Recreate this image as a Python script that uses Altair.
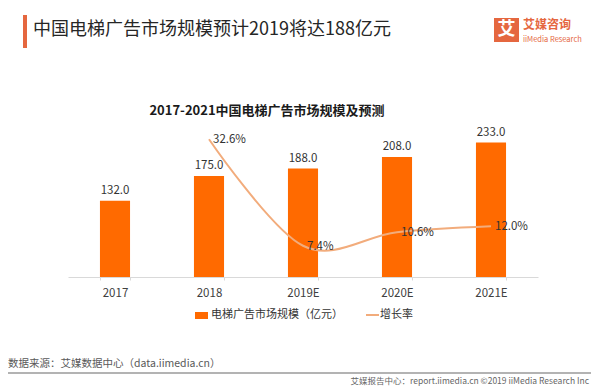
import altair as alt
import pandas as pd

# ---- data ----
years = ["2017", "2018", "2019E", "2020E", "2021E"]
market = [132.0, 175.0, 188.0, 208.0, 233.0]
growth = [None, 32.6, 7.4, 10.6, 12.0]

FONT = "Noto Sans CJK SC"
BAR = "#FF6A00"
LINE = "#F2AC7C"
ACCENT = "#E5673F"

df = pd.DataFrame({"year": years, "market": market, "growth": growth})
one = pd.DataFrame({"k": [0]})

x = alt.X(
    "year:N", sort=years,
    scale=alt.Scale(paddingInner=0.68, paddingOuter=0.34),
    axis=alt.Axis(title=None, labelAngle=0, labelFont=FONT, labelFontSize=11.5,
                  labelColor="#404040", labelPadding=7, domainColor="#d9d9d9",
                  tickColor="#d9d9d9", tickSize=3, tickBand="extent", grid=False),
)
ybar = alt.Y("market:Q", scale=alt.Scale(domain=[0, 260], nice=False), axis=None)
yline = alt.Y("growth:Q", scale=alt.Scale(domain=[0, 35.5], nice=False), axis=None)

bars = alt.Chart(df).mark_bar(color=BAR).encode(x=x, y=ybar)
bar_labels = alt.Chart(df).mark_text(
    baseline="bottom", dy=-5, font=FONT, fontSize=11.5, color="#333333"
).encode(x=x, y=ybar, text=alt.Text("market:Q", format=".1f"))

gdf = df.dropna()
line = alt.Chart(gdf).mark_line(
    color=LINE, strokeWidth=2, interpolate="cardinal"
).encode(x=x, y=yline)
line_labels = alt.Chart(gdf).transform_calculate(
    lab="format(datum.growth, '.1f') + '%'"
).mark_text(
    align="left", baseline="middle", dx=4, dy=1, font=FONT, fontSize=11.5, color="#333333"
).encode(x=x, y=yline, text="lab:N")


def txt(s, px, py, size=11, color="#333333", align="left", weight="normal", baseline="middle"):
    return alt.Chart(one).mark_text(
        text=s, font=FONT, fontSize=size, color=color, align=align,
        fontWeight=weight, baseline=baseline
    ).encode(x=alt.value(px), y=alt.value(py))


def box(x1, x2, y1, y2, color):
    return alt.Chart(one).mark_rect(color=color).encode(
        x=alt.value(x1), x2=alt.value(x2), y=alt.value(y1), y2=alt.value(y2))


deco = [
    box(-45, -41, -112, -79, ACCENT),
    txt("中国电梯广告市场规模预计2019将达188亿元", -35, -97, size=18, color="#262626"),
    box(426, 451, -109, -85, ACCENT),
    txt("艾", 438.5, -97, size=18, color="white", align="center", weight="bold"),
    txt("艾媒咨询", 455, -102, size=12, color=ACCENT, weight="bold"),
    txt("iiMedia Research", 455, -87, size=7.5, color=ACCENT),
    txt("2017-2021中国电梯广告市场规模及预测", 199, -16, size=13, color="#1a1a1a", align="center", weight="bold"),
    box(127, 140, 185, 192, BAR),
    txt("电梯广告市场规模（亿元）", 143, 188, size=11, color="#333333"),
    alt.Chart(one).mark_rule(color=LINE, strokeWidth=2).encode(
        x=alt.value(298), x2=alt.value(311), y=alt.value(188)),
    txt("增长率", 312, 188, size=11, color="#333333"),
    txt("数据来源：艾媒数据中心（data.iimedia.cn）", -60, 237, size=10.5, color="#595959"),
    alt.Chart(one).mark_rule(color="#9a9a9a", strokeWidth=1.5).encode(
        x=alt.value(-60), x2=alt.value(523), y=alt.value(246)),
    txt("艾媒报告中心：report.iimedia.cn  ©2019  iiMedia Research  Inc", 521, 254,
        size=8.5, color="#666666", align="right"),
]

chart = alt.layer(bars, bar_labels, line, line_labels, *deco).resolve_scale(
    y="independent"
).properties(
    width=470, height=150,
    autosize=alt.AutoSizeParams(type="none"),
    padding={"left": 60, "top": 119, "right": 53, "bottom": 112},
).configure_view(stroke=None)

chart.save("out.html", embed_options={"renderer": "svg", "actions": False})
